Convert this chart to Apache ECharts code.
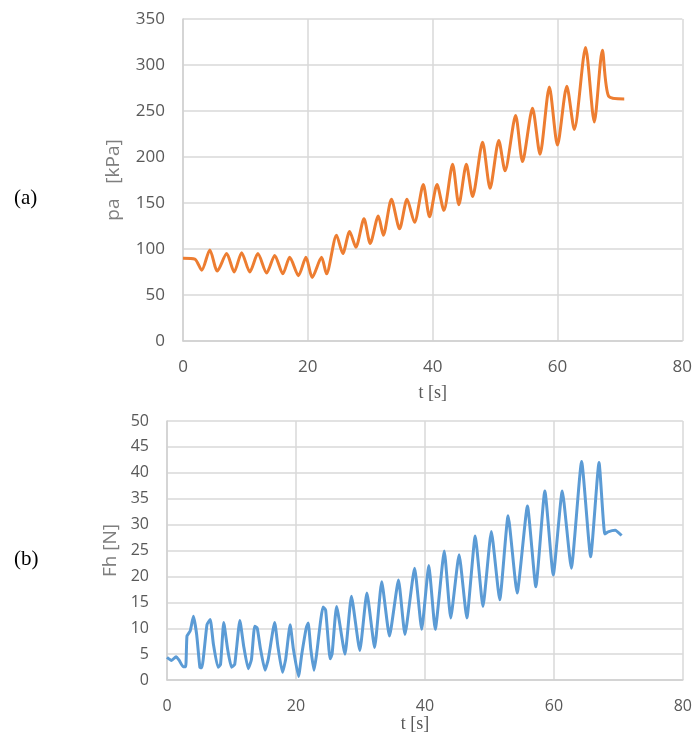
<!DOCTYPE html>
<html>
<head>
<meta charset="utf-8">
<script src="https://cdn.jsdelivr.net/npm/echarts@6/dist/echarts.min.js"></script>
<style>
  html, body { margin: 0; padding: 0; background: #fff; }
  #chart { width: 695px; height: 734px; }
</style>
</head>
<body>
<div id="chart"></div>
<script>
// (a) pa [kPa] vs t [s]
const timeA = [0, 1.9, 3, 4.3, 5.5, 7, 8.2, 9.4, 10.7, 12, 13.4, 14.7, 16, 17.1, 18.5, 19.7, 20.7, 22.2, 23,
  24.6, 25.6, 26.7, 27.7, 29, 30, 31.3, 32.1, 33.4, 34.7, 35.9, 37.1, 38.5, 39.5, 40.7, 41.8, 43.2, 44.2,
  45.4, 46.4, 48, 49.2, 50.6, 51.6, 53.3, 54.4, 56, 57.2, 58.7, 60, 61.5, 62.7, 64.5, 65.9, 67.2, 68.2, 70.7]
const paValues = [90, 89, 77, 99, 76, 95, 75, 96, 75, 95, 74, 93, 73, 91, 71, 91, 69, 91, 73,
  115, 95, 119, 102, 133, 106, 136, 115, 154, 122, 154, 129, 170, 135, 170, 142, 192, 148,
  192, 157, 216, 166, 218, 185, 245, 195, 253, 203, 276, 213, 277, 230, 319, 238, 316, 266, 263]

// (b) Fh [N] vs t [s]
const timeB = [0, 0.7, 1.4, 1.9, 2.5, 2.9, 3.1, 3.6, 4.1, 4.6, 5.1, 5.4, 6.2, 6.7, 7.2, 7.9, 8.3, 8.8, 9.4,
  10, 10.5, 11.3, 11.9, 12.6, 13.1, 13.6, 14, 14.5, 15.2, 15.7, 16.7, 17.2, 17.9, 18.4, 19.1, 19.6, 20.4,
  20.9, 21.6, 21.9, 22.3, 22.8, 23.2, 24.2, 24.6, 25.3, 25.6, 26.3, 27.6, 28.6, 29.9, 31, 32.2, 33.3,
  34.5, 35.9, 36.9, 38.4, 39.5, 40.6, 41.6, 43, 44, 45.3, 46.5, 47.8, 49, 50.3, 51.6, 52.9, 54.3, 55.9,
  57.2, 58.6, 59.9, 61.3, 62.7, 64.3, 65.7, 67, 67.9, 68.4, 69.5, 70.5]
const fhValues = [4.4, 3.8, 4.5, 3.8, 2.6, 2.6, 8.5, 9.5, 12.3, 8.8, 2.5, 2.4, 10.7, 11.7, 6.9, 2.5, 3, 11.1, 6,
  2.5, 3, 11.5, 6.5, 2.2, 4, 10.4, 10, 6, 1.9, 4, 11.1, 6.5, 1.5, 4, 10.7, 6, 0.7,
  5, 10.1, 11, 6, 1.9, 5, 14.1, 13.5, 4.1, 5, 14.2, 5, 16.2, 5.7, 16.8, 6.3, 19,
  8.5, 19.3, 8.8, 21.6, 9.8, 22.1, 9.8, 24.9, 12, 24.2, 12, 27.8, 14.2, 28.7, 15.5, 31.7, 16.8, 33.6,
  18, 36.5, 20.3, 36.5, 21.6, 42.2, 23.8, 42, 28.2, 28.6, 28.9, 27.9]

const xTicks = { min: 0, max: 80, interval: 20 }
const yTicksA = { min: 0, max: 350, interval: 50 }
const yTicksB = { min: 0, max: 50, interval: 5 }

const pairs = (xs, ys) => xs.map((x, i) => [x, ys[i]])

const gridLine = { show: true, lineStyle: { color: '#d9d9d9', width: 1.5 } }
const axisLine = { show: true, lineStyle: { color: '#d0d0d0', width: 1.5 } }
const labelFont = 'Open Sans'

function xAxisFor(gridIndex, fontSize, nameGap, nameOffset) {
  return {
    type: 'value',
    gridIndex: gridIndex,
    min: xTicks.min,
    max: xTicks.max,
    interval: xTicks.interval,
    axisLine: axisLine,
    axisTick: { show: false },
    splitLine: gridLine,
    axisLabel: { color: '#595959', fontFamily: labelFont, fontSize: fontSize, margin: 18 },
    name: 't [s]',
    nameLocation: 'middle',
    nameGap: nameGap,
    nameTextStyle: { color: '#595959', fontFamily: 'Liberation Serif', fontSize: 18, padding: [0, nameOffset, 0, 0] }
  }
}

function yAxisFor(gridIndex, ticks, name, fontSize, nameGap, nameSize) {
  return {
    type: 'value',
    gridIndex: gridIndex,
    min: ticks.min,
    max: ticks.max,
    interval: ticks.interval,
    axisLine: axisLine,
    axisTick: { show: false },
    splitLine: gridLine,
    axisLabel: { color: '#595959', fontFamily: labelFont, fontSize: fontSize, margin: 18 },
    name: name,
    nameLocation: 'middle',
    nameGap: nameGap,
    nameTextStyle: { color: '#7f7f7f', fontFamily: labelFont, fontSize: nameSize }
  }
}

const chart = echarts.init(document.getElementById('chart'))
const option = {
  animation: false,
  backgroundColor: '#fff',
  grid: [
    { left: 183, top: 19, width: 500, height: 322 },
    { left: 167, top: 421, width: 516, height: 262 }
  ],
  xAxis: [xAxisFor(0, 17, 43, 0), xAxisFor(1, 16, 32, 20)],
  yAxis: [
    yAxisFor(0, yTicksA, 'pa   [kPa]', 17, 60, 19),
    yAxisFor(1, yTicksB, 'Fh [N]', 16, 43, 19)
  ],
  graphic: [
    { type: 'text', left: 14, top: 188, style: { text: '(a)', fontFamily: 'Liberation Serif', fontSize: 21, fill: '#000' } },
    { type: 'text', left: 14, top: 549, style: { text: '(b)', fontFamily: 'Liberation Serif', fontSize: 21, fill: '#000' } }
  ],
  series: [
    {
      type: 'line',
      xAxisIndex: 0,
      yAxisIndex: 0,
      data: pairs(timeA, paValues),
      smooth: 0.25,
      showSymbol: false,
      lineStyle: { color: '#ed7d31', width: 3 }
    },
    {
      type: 'line',
      xAxisIndex: 1,
      yAxisIndex: 1,
      data: pairs(timeB, fhValues),
      smooth: 0.15,
      showSymbol: false,
      lineStyle: { color: '#5b9bd5', width: 3 }
    }
  ]
}
chart.setOption(option)
</script>
</body>
</html>
